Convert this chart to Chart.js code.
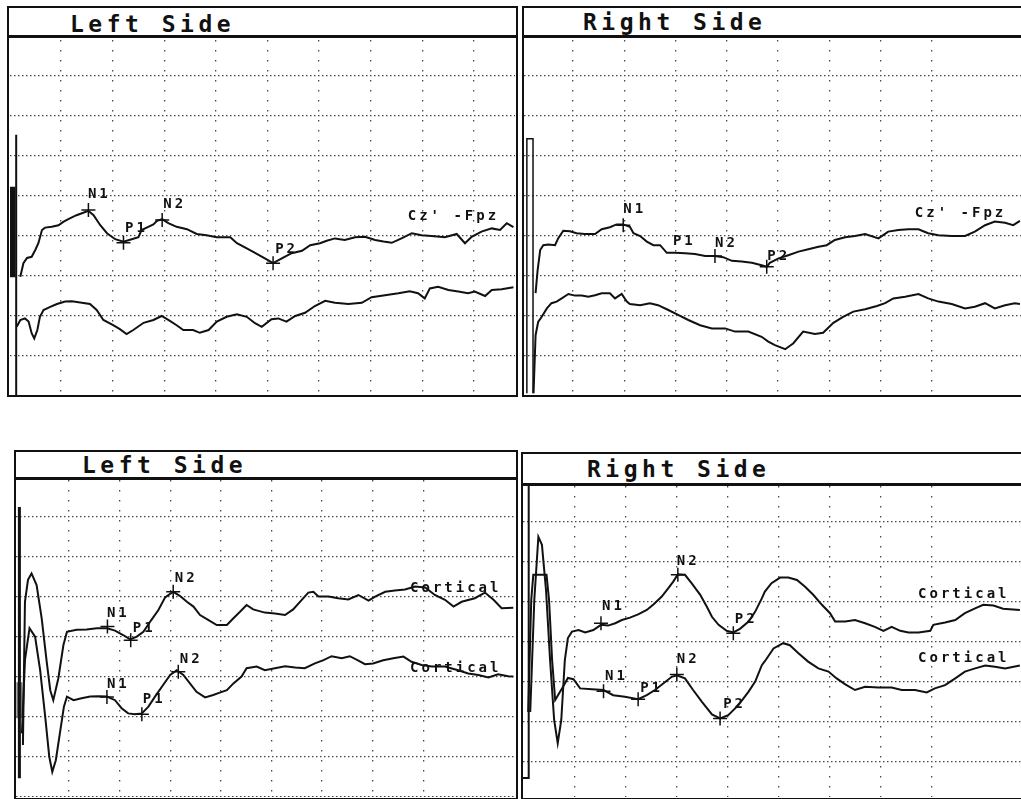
<!DOCTYPE html>
<html>
<head>
<meta charset="utf-8">
<script src="https://cdn.jsdelivr.net/npm/chart.js@4"></script>
<style>
  html, body { margin: 0; padding: 0; background: #fff; }
  body { width: 1021px; height: 799px; position: relative; overflow: hidden; }
  .frame { position: absolute; border: 2px solid #111; box-sizing: border-box; }
  .sep { position: absolute; height: 3px; background: #111; }
  .title {
    position: absolute; font: bold 23px "DejaVu Sans Mono", monospace;
    letter-spacing: 4.5px; line-height: 23px; color: #111; white-space: pre;
  }
  canvas { position: absolute; }
</style>
</head>
<body>
<div class="frame" style="left:7px;top:6px;width:511px;height:391px"></div>
<div class="sep" style="left:7px;top:35px;width:511px"></div>
<div class="title" style="left:70px;top:13px">Left Side</div>
<canvas id="tl"></canvas>

<div class="frame" style="left:522px;top:6px;width:510px;height:391px"></div>
<div class="sep" style="left:522px;top:35px;width:510px"></div>
<div class="title" style="left:583px;top:11px">Right Side</div>
<canvas id="tr"></canvas>

<div class="frame" style="left:14px;top:450px;width:504px;height:350px"></div>
<div class="sep" style="left:14px;top:477px;width:504px"></div>
<div class="title" style="left:82px;top:454px">Left Side</div>
<canvas id="bl"></canvas>

<div class="frame" style="left:521px;top:452px;width:510px;height:348px"></div>
<div class="sep" style="left:521px;top:483px;width:510px"></div>
<div class="title" style="left:587px;top:458px">Right Side</div>
<canvas id="br"></canvas>

<script>
// time in ms (10 ms per division), amplitude in uV (10 per division)

// --- top left: Cz'-Fpz ---
const TL_UPPER = [[2.1,-20.2],[2.7,-16.8],[3.4,-15.5],[4.3,-15.2],[5.0,-13.5],[5.6,-11.8],[6.3,-8.5],[6.9,-7.9],[8.2,-7.7],[9.5,-7.3],[10.5,-6.4],[11.7,-5.6],[13.0,-4.8],[14.3,-4.2],[15.3,-3.7],[16.3,-4.8],[17.6,-7.3],[18.9,-9.3],[20.5,-10.8],[22.1,-11.4],[23.7,-10.8],[25.0,-10.3],[25.6,-8.5],[26.9,-7.7],[27.9,-7.1],[28.6,-6.2],[29.6,-5.8],[30.8,-6.8],[32.4,-7.7],[34.4,-8.3],[36.3,-9.5],[38.2,-9.8],[40.2,-10.3],[42.8,-10.3],[44.1,-11.8],[46.0,-13.1],[47.6,-14.2],[49.5,-15.6],[51.1,-16.8],[52.8,-15.6],[54.7,-14.3],[56.7,-13.7],[58.3,-12.3],[60.2,-11.8],[61.5,-11.2],[63.1,-10.6],[65.0,-11.0],[67.0,-10.3],[68.9,-10.2],[70.9,-11.0],[72.5,-11.4],[74.1,-11.7],[76.0,-10.6],[78.0,-9.3],[79.9,-9.8],[81.8,-10.0],[84.4,-10.3],[86.7,-9.5],[88.3,-11.8],[89.6,-10.2],[91.5,-8.9],[93.5,-8.1],[95.1,-8.5],[96.4,-6.8],[97.7,-7.8]];
const TL_LOWER = [[1.4,-32.7],[2.1,-31.0],[3.0,-30.6],[3.7,-31.4],[4.3,-34.3],[4.8,-35.6],[5.4,-33.5],[5.9,-30.2],[6.6,-28.5],[7.9,-27.7],[9.2,-27.0],[10.8,-26.4],[12.1,-26.3],[13.7,-26.6],[15.6,-27.0],[16.9,-28.5],[18.2,-31.0],[20.1,-32.3],[21.4,-33.3],[22.7,-34.5],[24.0,-33.5],[26.0,-31.7],[27.9,-31.0],[29.5,-30.0],[31.1,-31.2],[32.4,-32.3],[33.7,-33.5],[35.6,-33.5],[36.9,-34.2],[38.6,-33.5],[40.2,-31.4],[42.1,-30.2],[44.1,-29.6],[46.0,-30.2],[47.6,-31.8],[48.9,-32.7],[50.8,-30.8],[52.1,-30.6],[53.7,-31.4],[55.4,-30.0],[57.3,-29.2],[59.2,-27.5],[61.2,-26.2],[63.1,-26.7],[65.7,-27.0],[68.3,-26.7],[70.2,-25.3],[72.8,-24.8],[75.4,-24.3],[77.6,-23.8],[79.2,-24.3],[80.5,-25.6],[81.5,-23.1],[83.1,-22.7],[85.1,-23.5],[87.0,-23.9],[88.9,-24.3],[90.2,-23.9],[92.2,-25.0],[93.5,-23.5],[95.4,-23.3],[97.7,-22.8]];
const TL_CAL = [[0.3,2.3],[0.3,-20.3]];
const TL_STIM = [[1.3,15.3],[1.3,-49.8]];
const TL_PEAKS = [[15.3,-3.5],[22.1,-11.7],[29.6,-6.0],[51.1,-16.8]];
const TL_TEXTS = [["N1",15.2,-0.5],["P1",22.4,-9.0],["N2",29.8,-3.0],["P2",51.5,-14.3],["Cz' -Fpz",77.2,-6.0]];

// --- top right: Cz'-Fpz ---
const TR_UPPER = [[2.7,-24.3],[3.1,-18.5],[3.6,-13.5],[4.2,-12.3],[5.2,-12.1],[6.5,-12.3],[7.1,-10.6],[8.1,-8.7],[9.4,-8.8],[10.7,-9.3],[12.3,-9.5],[14.3,-9.5],[15.6,-8.3],[17.2,-7.8],[18.5,-7.1],[19.8,-7.1],[21.1,-7.7],[21.8,-9.3],[23.1,-10.0],[24.4,-11.4],[25.7,-12.3],[27.0,-12.3],[28.3,-14.2],[29.9,-14.2],[31.9,-14.3],[33.8,-14.5],[35.8,-15.0],[37.7,-15.0],[39.3,-15.3],[41.0,-16.2],[42.9,-16.4],[44.9,-16.7],[46.8,-17.3],[47.8,-17.7],[48.4,-16.7],[50.1,-15.6],[52.0,-14.8],[54.0,-13.9],[55.9,-13.3],[57.9,-12.7],[59.5,-12.3],[61.1,-11.0],[63.1,-10.3],[65.0,-10.0],[67.0,-9.5],[69.6,-10.6],[71.5,-8.9],[73.5,-8.5],[75.4,-8.3],[77.4,-8.3],[79.3,-9.3],[81.3,-9.8],[83.9,-10.0],[86.5,-10.0],[88.4,-8.9],[90.4,-7.3],[92.3,-6.4],[94.3,-6.7],[95.9,-7.3],[97.2,-6.2]];
const TR_LOWER = [[2.3,-49.3],[2.7,-34.8],[3.2,-31.5],[3.9,-30.2],[4.9,-28.1],[5.8,-26.8],[6.8,-26.4],[7.8,-25.6],[9.1,-24.5],[10.4,-24.9],[11.7,-24.9],[13.0,-25.2],[14.3,-24.8],[15.6,-24.3],[17.2,-24.3],[18.2,-25.6],[19.5,-24.5],[20.5,-26.4],[21.1,-27.0],[23.1,-27.3],[25.0,-26.8],[26.6,-27.3],[28.6,-28.5],[30.6,-29.8],[32.5,-31.0],[34.8,-32.3],[37.1,-33.1],[39.7,-33.1],[41.6,-33.9],[44.2,-33.9],[46.8,-35.2],[48.1,-36.4],[49.4,-37.3],[51.4,-38.3],[53.0,-36.8],[54.9,-33.9],[57.2,-34.5],[58.8,-34.2],[60.8,-31.7],[62.7,-30.2],[64.7,-28.9],[67.0,-28.3],[69.3,-27.5],[70.9,-26.8],[72.5,-25.6],[74.8,-25.2],[77.4,-24.5],[79.3,-25.6],[81.3,-26.4],[83.9,-27.0],[86.5,-28.1],[88.4,-27.7],[90.4,-26.8],[92.3,-28.1],[94.3,-27.3],[96.2,-26.8],[97.2,-27.0]];
const TR_CAL = [[1.0,-49.3],[1.0,14.3],[2.2,14.3],[2.2,-49.3]];
const TR_PEAKS = [[19.8,-7.3],[37.7,-15.0],[47.8,-17.7]];
const TR_TEXTS = [["N1",19.8,-4.3],["P1",29.5,-12.3],["N2",37.7,-12.8],["P2",47.9,-16.0],["Cz' -Fpz",76.7,-5.3]];

// --- bottom left: Cortical x2 ---
const BL_UPPER = [[0.9,-27.0],[1.3,8.8],[1.9,14.3],[2.6,15.9],[3.6,13.0],[4.6,4.7],[5.6,-6.2],[6.3,-13.3],[6.9,-15.8],[7.9,-10.3],[8.9,-2.0],[9.6,1.3],[11.5,1.8],[13.5,1.9],[15.5,2.2],[17.5,2.2],[19.1,1.6],[20.7,0.5],[22.1,-0.6],[23.4,0.1],[24.7,1.3],[26.3,4.3],[27.7,6.8],[29.0,9.9],[30.6,11.3],[31.9,10.3],[33.3,8.8],[34.6,7.6],[35.9,5.5],[37.5,4.3],[39.2,3.0],[41.2,3.0],[42.5,4.7],[43.8,6.3],[45.1,8.0],[46.4,6.9],[48.7,6.1],[50.7,5.9],[52.7,5.5],[54.3,6.9],[56.0,9.3],[57.3,11.1],[58.3,11.3],[59.3,10.1],[61.3,10.1],[63.2,9.7],[65.2,9.4],[67.2,10.5],[69.2,9.1],[70.5,10.1],[72.5,11.3],[74.4,11.6],[76.4,11.9],[78.4,12.6],[80.4,12.4],[82.3,10.5],[84.3,9.3],[86.0,7.6],[87.6,8.8],[90.2,9.7],[92.2,11.1],[93.9,9.3],[95.5,7.2],[97.8,7.3]];
const BL_LOWER = [[0.7,-24.1],[1.3,-5.8],[2.2,2.2],[3.3,0.1],[4.3,-8.3],[5.3,-19.9],[6.1,-29.9],[6.7,-33.7],[7.4,-30.8],[8.2,-24.1],[9.0,-17.4],[9.6,-14.9],[10.9,-15.8],[12.5,-15.3],[14.2,-14.9],[15.8,-14.8],[17.5,-14.9],[19.1,-15.8],[20.4,-17.8],[21.7,-19.1],[23.0,-19.3],[24.4,-19.1],[25.7,-17.4],[27.0,-14.9],[28.6,-12.0],[30.0,-9.5],[31.3,-8.3],[32.6,-9.5],[33.9,-11.6],[35.2,-13.7],[36.9,-15.1],[38.5,-14.5],[39.8,-13.9],[41.2,-13.3],[42.5,-11.6],[44.1,-9.9],[45.1,-7.8],[47.1,-7.4],[48.7,-8.3],[50.7,-7.8],[52.7,-7.3],[54.7,-7.6],[56.6,-7.8],[58.6,-6.6],[60.3,-5.8],[61.9,-4.8],[63.9,-5.3],[65.5,-4.8],[67.2,-5.9],[68.5,-6.8],[70.1,-6.6],[72.1,-5.8],[74.1,-5.3],[76.1,-4.9],[77.7,-6.2],[79.7,-7.0],[81.7,-7.4],[84.3,-7.4],[86.9,-8.3],[88.9,-9.1],[90.9,-9.5],[92.9,-10.1],[94.8,-9.3],[96.8,-9.8],[97.8,-9.9]];
const BL_CAL = [[0.2,32.5],[0.2,-35.3]];
const BL_CAL_BLOCK = [[0.2,-11.3],[0.2,-20.3]];
const BL_PEAKS = [[17.6,2.6],[22.2,-0.8],[30.6,11.3],[17.5,-15.0],[24.4,-19.3],[31.6,-8.7]];
const BL_TEXTS = [["N1",17.5,5.0],["P1",22.6,1.3],["N2",30.9,13.8],["N1",17.5,-12.8],["P1",24.6,-16.5],["N2",31.9,-6.5],["Cortical",77.4,11.3],["Cortical",77.4,-8.8]];

// --- bottom right: Cortical x2 ---
const BR_UPPER = [[1.2,-17.5],[2.0,10.5],[2.8,26.3],[3.5,24.3],[4.3,13.0],[5.1,-4.5],[5.9,-19.5],[6.6,-25.3],[7.3,-19.5],[8.0,-4.5],[8.6,1.0],[9.4,2.6],[10.7,3.0],[12.0,2.4],[13.6,3.0],[15.1,4.3],[16.5,4.1],[17.9,4.7],[19.2,5.5],[20.8,6.1],[22.4,6.9],[24.1,8.0],[25.4,9.4],[27.0,11.3],[28.3,13.4],[29.3,15.1],[30.2,16.9],[31.6,16.8],[32.9,14.7],[34.6,11.8],[35.9,8.8],[36.9,6.3],[38.2,4.3],[39.8,2.8],[41.1,2.4],[42.4,3.3],[44.1,5.1],[45.4,7.6],[46.7,10.9],[47.3,12.6],[48.6,14.7],[50.3,16.1],[51.9,16.1],[53.6,15.5],[55.2,13.8],[56.8,11.8],[58.5,9.3],[60.1,7.2],[61.1,5.1],[63.1,5.1],[65.0,5.5],[67.0,4.7],[68.9,3.8],[70.6,2.8],[72.2,3.8],[73.9,2.8],[75.5,2.4],[77.5,2.4],[79.8,2.8],[80.4,4.3],[82.7,4.9],[84.7,5.5],[86.6,7.2],[88.6,8.4],[90.2,9.3],[92.2,9.1],[94.1,8.3],[97.4,8.0]];
const BR_LOWER = [[0.8,-17.5],[1.4,10.5],[1.8,16.8],[4.4,16.8],[4.9,10.5],[5.5,-4.5],[6.1,-14.5],[7.5,-11.5],[8.6,-9.0],[9.7,-9.3],[11.0,-11.6],[13.3,-11.8],[15.6,-12.0],[17.5,-13.3],[19.8,-13.7],[22.4,-14.3],[24.1,-13.3],[25.7,-12.0],[27.4,-10.3],[29.0,-8.7],[30.0,-8.3],[31.6,-9.1],[33.2,-12.0],[34.9,-14.9],[36.9,-18.1],[38.5,-19.1],[40.1,-18.3],[42.1,-15.8],[44.1,-12.4],[45.4,-9.9],[46.7,-5.8],[47.3,-4.8],[49.0,-1.6],[50.9,-0.3],[52.2,-0.8],[53.9,-2.8],[55.8,-4.9],[57.8,-6.6],[59.8,-7.4],[61.4,-9.1],[63.1,-10.6],[65.0,-12.0],[67.0,-11.2],[69.6,-11.4],[72.2,-11.4],[74.2,-12.0],[76.8,-12.0],[79.1,-12.6],[80.7,-11.6],[82.7,-10.8],[84.7,-9.1],[86.6,-7.4],[88.6,-6.6],[90.6,-5.9],[92.5,-6.2],[94.5,-6.6],[97.4,-5.9]];
const BR_CAL = [[0.9,39.0],[0.9,-34.0],[-0.3,-34.0]];
const BR_PEAKS = [[15.1,4.7],[30.2,16.8],[41.1,2.2],[15.6,-12.3],[22.4,-14.3],[30.0,-8.1],[38.5,-19.1]];
const BR_TEXTS = [["N1",15.3,8.0],["N2",30.0,19.3],["P2",41.4,4.8],["N1",15.9,-9.5],["P1",22.8,-12.5],["N2",30.0,-5.3],["P2",39.1,-16.5],["Cortical",77.4,11.0],["Cortical",77.4,-5.0]];

const INK = "#111";
const GRID = "rgba(40,40,40,0.85)";

const toXY = pts => pts.map(([x, y]) => ({ x, y }));
const onTen = v => Math.abs(v % 10) < 1e-6;

function textPlugin(items) {
  return {
    id: "texts",
    afterDatasetsDraw(chart) {
      const { ctx, scales: { x, y } } = chart;
      ctx.save();
      ctx.font = 'bold 14px "DejaVu Sans Mono", monospace';
      ctx.letterSpacing = "3px";
      ctx.fillStyle = INK;
      ctx.textAlign = "left";
      ctx.textBaseline = "alphabetic";
      items.forEach(([txt, t, v]) => ctx.fillText(txt, x.getPixelForValue(t), y.getPixelForValue(v)));
      ctx.restore();
    }
  };
}

function drawPanel(p) {
  const cv = document.getElementById(p.id);
  cv.width = p.w; cv.height = p.h;
  cv.style.left = p.left + "px"; cv.style.top = p.top + "px";

  const datasets = [];
  p.traces.forEach(tr => datasets.push({
    data: toXY(tr), borderColor: INK, borderWidth: 2, pointRadius: 0, tension: 0, fill: false
  }));
  p.extras.forEach(ex => datasets.push({
    data: toXY(ex.pts), borderColor: ex.color || INK, borderWidth: ex.w, pointRadius: 0,
    tension: 0, fill: false, clip: false
  }));
  datasets.push({
    data: toXY(p.peaks), showLine: false, pointStyle: "cross", pointRadius: 7,
    pointBorderWidth: 1.5, pointBorderColor: INK, pointBackgroundColor: INK
  });

  new Chart(cv, {
    type: "line",
    data: { datasets },
    options: {
      responsive: false,
      animation: false,
      events: [],
      layout: { padding: 0, autoPadding: false },
      plugins: { legend: { display: false }, tooltip: { enabled: false } },
      scales: {
        x: {
          type: "linear", min: p.xMin, max: p.xMax,
          ticks: { display: false, stepSize: 10 },
          grid: { drawTicks: false, lineWidth: 1.3,
                  color: c => (c.tick && onTen(c.tick.value) && c.tick.value !== 0) ? GRID : "transparent" },
          border: { display: false, dash: [1.5, 8.5] }
        },
        y: {
          type: "linear", min: p.yMin, max: p.yMax,
          ticks: { display: false, stepSize: 10 },
          grid: { drawTicks: false, lineWidth: 1.3,
                  color: c => (c.tick && onTen(c.tick.value)) ? GRID : "transparent" },
          border: { display: false, dash: [1.5, 2.5] }
        }
      }
    },
    plugins: [textPlugin(p.texts)]
  });
}

drawPanel({ id: "tl", left: 10, top: 40, w: 505, h: 355, xMin: 0.1, xMax: 98, yMin: -49.75, yMax: 39,
  traces: [TL_UPPER, TL_LOWER], peaks: TL_PEAKS, texts: TL_TEXTS,
  extras: [{ pts: TL_CAL, w: 9 }, { pts: TL_STIM, w: 2 }] });

drawPanel({ id: "tr", left: 524, top: 40, w: 497, h: 355, xMin: 0.44, xMax: 97.41, yMin: -49.75, yMax: 39,
  traces: [TR_UPPER, TR_LOWER], peaks: TR_PEAKS, texts: TR_TEXTS,
  extras: [{ pts: TR_CAL, w: 1.5 }] });

drawPanel({ id: "bl", left: 16, top: 480, w: 500, h: 317, xMin: -0.47, xMax: 98.34, yMin: -40, yMax: 39.25,
  traces: [BL_UPPER, BL_LOWER], peaks: BL_PEAKS, texts: BL_TEXTS,
  extras: [{ pts: BL_CAL, w: 3 }, { pts: BL_CAL_BLOCK, w: 6, color: "#777" }] });

drawPanel({ id: "br", left: 523, top: 486, w: 498, h: 311, xMin: -0.22, xMax: 97.62, yMin: -38.75, yMax: 39,
  traces: [BR_UPPER, BR_LOWER], peaks: BR_PEAKS, texts: BR_TEXTS,
  extras: [{ pts: BR_CAL, w: 2 }] });
</script>
</body>
</html>
